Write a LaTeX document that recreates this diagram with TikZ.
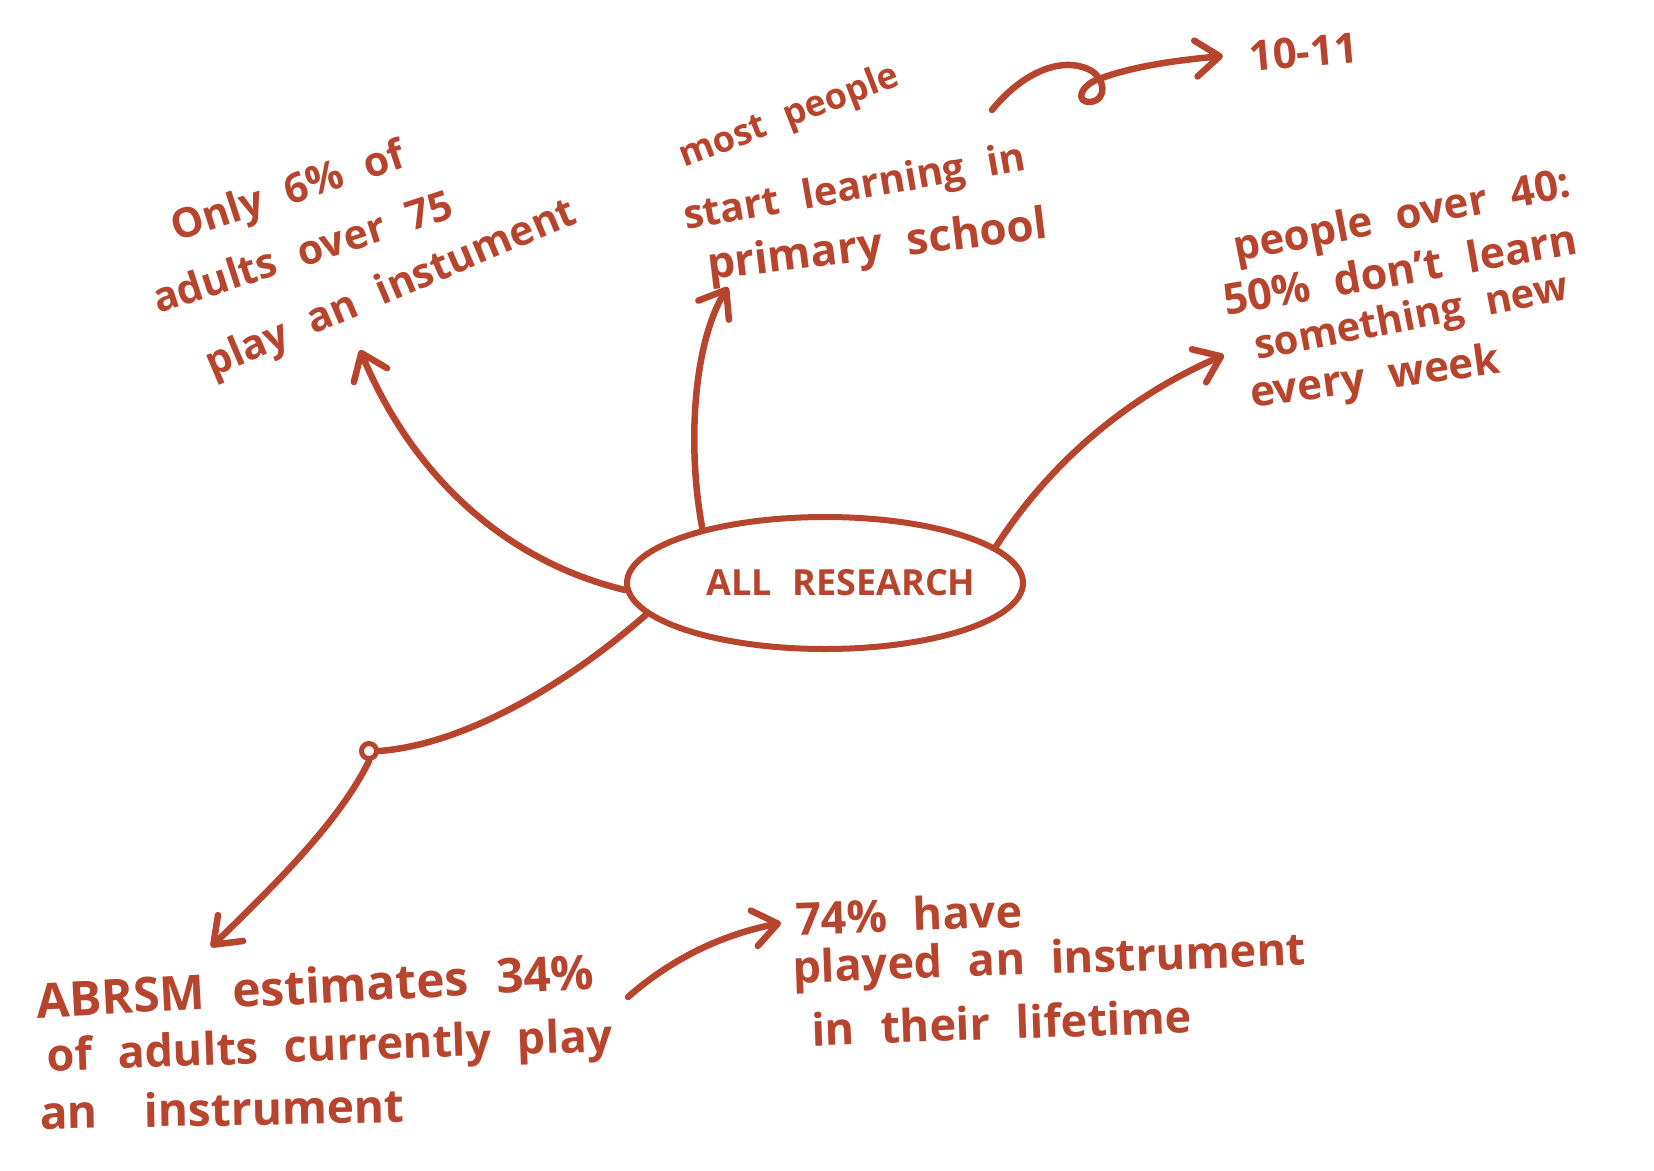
\documentclass[tikz,border=0pt]{standalone}
\usepackage{fontspec}
\setmainfont{Open Sans}[WordSpace=2.2]
\usetikzlibrary{arrows.meta,shapes.geometric}
\definecolor{mred}{RGB}{183,68,45}
\begin{document}
\begin{tikzpicture}[x=1pt,y=-1pt,
  hw/.style={text=mred,font=\fontsize{#1}{#1}\selectfont\bfseries,inner sep=0pt,anchor=base west},
  hw/.default=42,
  link/.style={draw=mred,line width=6.5pt,line cap=round,line join=round},
  tip/.style={-{Straight Barb[round,length=24pt,width=36pt]}}]
\fill[white] (0,0) rectangle (1654,1170);
\useasboundingbox (0,0) rectangle (1654,1170);

% hub
\node[ellipse,draw=mred,line width=6pt,minimum width=396pt,minimum height=132pt,inner sep=0pt,
      text=mred,font=\fontsize{36}{40}\selectfont\bfseries] (hub) at (825,583)
      {\makebox[0pt]{\hspace*{32pt}ALL RESEARCH}};

% block A
\node[hw=41,rotate=18] (a1) at (176,242) {Only 6\% of};
\node[hw=41,rotate=18] (a2) at (158,314) {adults over 75};
\node[hw=41,rotate=23] (a3) at (212,378) {play an instument};

% block B
\node[hw=36,rotate=21] (b1) at (684,168) {most people};
\node[hw=40,rotate=10] (b2) at (686,230) {start learning in};
\node[hw=44,rotate=7] (b3) at (709,280) {primary school};
\node[hw,rotate=5] (f1) at (1250,72) {10-11};

% block C
\node[hw,rotate=11] (c1) at (1236,262) {people over 40:};
\node[hw=43,rotate=10] (c2) at (1226,316) {50\% don't learn};
\node[hw=40,rotate=11] (c3) at (1257,360) {something new};
\node[hw,rotate=8] (c4) at (1252,408) {every week};

% block D
\node[hw=48,rotate=3] (d1) at (37,1018) {ABRSM estimates 34\%};
\node[hw=45,rotate=2] (d2) at (47,1071) {of adults currently play};
\node[hw=46,rotate=1] (d3) at (40,1129) {an\quad instrument};

% block E
\node[hw=45,rotate=2] (e1) at (796,935) {74\% have};
\node[hw=45,rotate=2] (e2) at (793,983) {played an instrument};
\node[hw=45,rotate=2] (e3) at (812,1046) {in their lifetime};

% connector ends
\coordinate (tA) at (360,350);
\coordinate (tB) at (728,287);
\coordinate (tC) at (1224,355);
\coordinate (tD) at (211,947);
\coordinate (sE) at (628,997);
\coordinate (tE) at (781,923);
\coordinate (sF) at (992,110);
\coordinate (tF) at (1223,56);
\node[circle,draw=mred,line width=5pt,minimum size=15pt,inner sep=0pt] (knot) at (369,751) {};

% connectors
\draw[link,tip] (hub.182) .. controls (500,560) and (410,470) .. (tA);
\draw[link,tip] (hub.156) .. controls (686,440) and (695,340) .. (tB);
\draw[link,tip] (hub.12) .. controls (1045,470) and (1120,400) .. (tC);
\draw[link] (hub.190) .. controls (560,690) and (460,745) .. (knot.east);
\draw[link,tip] (knot.south) .. controls (340,820) and (280,880) .. (tD);
\draw[link,tip] (sE) .. controls (670,960) and (720,935) .. (tE);
\draw[link,tip] (sF) .. controls (1020,75) and (1060,55) .. (1090,70)
   .. controls (1105,78) and (1108,100) .. (1090,102)
   .. controls (1076,102) and (1080,88) .. (1094,81)
   .. controls (1130,66) and (1180,60) .. (tF);
\end{tikzpicture}
\end{document}
